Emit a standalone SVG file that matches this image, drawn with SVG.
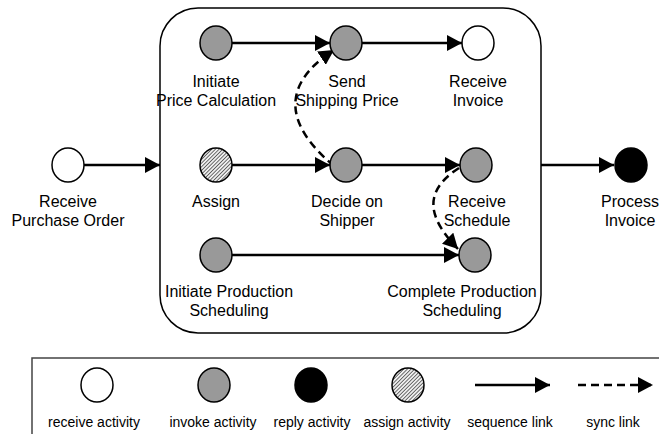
<svg xmlns="http://www.w3.org/2000/svg" width="659" height="434" viewBox="0 0 659 434">
<style>
.lbl{font-family:"Liberation Sans",Arial,sans-serif;font-size:16px;fill:#000;text-anchor:middle}
.leg{font-family:"Liberation Sans",Arial,sans-serif;font-size:14px;fill:#000;text-anchor:middle}
.act{stroke:#000;stroke-width:1.5}
.receive{fill:#fff}
.invoke{fill:#999}
.reply{fill:#000}
.assign{fill:url(#hatch)}
.seq{stroke:#000;stroke-width:2.5;fill:none;marker-end:url(#arrow)}
.sync{stroke:#000;stroke-width:2.5;fill:none;stroke-dasharray:8 5;marker-end:url(#arrow)}
</style>
<defs>
<pattern id="hatch" patternUnits="userSpaceOnUse" width="2.6" height="2.6" patternTransform="rotate(45)">
<rect width="2.6" height="2.6" fill="#eee"/>
<line x1="0" y1="0" x2="0" y2="2.6" stroke="#444" stroke-width="1.5"/>
</pattern>
<marker id="arrow" markerUnits="userSpaceOnUse" markerWidth="16" markerHeight="16" refX="15" refY="8" orient="auto">
<path d="M0,0 L15,8 L0,16 z" fill="#000"/>
</marker>
</defs>
<rect id="scope" x="160" y="8" width="381" height="325" rx="38" ry="38" fill="none" stroke="#000" stroke-width="1.5"/>
<g id="connectors">
<line class="seq" x1="84" y1="165" x2="160" y2="165"/>
<line class="seq" x1="232" y1="43" x2="330" y2="43"/>
<line class="seq" x1="362" y1="43" x2="462" y2="43"/>
<line class="seq" x1="232" y1="165" x2="330" y2="165"/>
<line class="seq" x1="362" y1="165" x2="460" y2="165"/>
<line class="seq" x1="232" y1="255" x2="459" y2="255"/>
<line class="seq" x1="541" y1="165" x2="614" y2="165"/>
<path class="sync" d="M334,166 C285,125 280,85 334,50"/>
<path class="sync" d="M459,168 C425,190 425,215 458,249"/>
</g>
<g id="receive-purchase-order">
<ellipse class="act receive" cx="68" cy="165" rx="16" ry="17"/>
<text class="lbl" x="68" y="207">Receive</text>
<text class="lbl" x="68" y="226">Purchase Order</text>
</g>
<g id="initiate-price-calculation">
<ellipse class="act invoke" cx="216" cy="43" rx="16" ry="17"/>
<text class="lbl" x="216" y="87">Initiate</text>
<text class="lbl" x="216" y="106">Price Calculation</text>
</g>
<g id="send-shipping-price">
<ellipse class="act invoke" cx="346" cy="43" rx="16" ry="17"/>
<text class="lbl" x="347" y="87">Send</text>
<text class="lbl" x="347" y="106">Shipping Price</text>
</g>
<g id="receive-invoice">
<ellipse class="act receive" cx="478" cy="43" rx="16" ry="17"/>
<text class="lbl" x="478" y="87">Receive</text>
<text class="lbl" x="478" y="106">Invoice</text>
</g>
<g id="assign">
<ellipse class="act assign" cx="216" cy="165" rx="16" ry="17"/>
<text class="lbl" x="216" y="207">Assign</text>
</g>
<g id="decide-on-shipper">
<ellipse class="act invoke" cx="346" cy="165" rx="16" ry="17"/>
<text class="lbl" x="347" y="207">Decide on</text>
<text class="lbl" x="347" y="226">Shipper</text>
</g>
<g id="receive-schedule">
<ellipse class="act invoke" cx="476" cy="165" rx="16" ry="17"/>
<text class="lbl" x="477" y="207">Receive</text>
<text class="lbl" x="477" y="226">Schedule</text>
</g>
<g id="process-invoice">
<ellipse class="act reply" cx="631" cy="165" rx="16" ry="17"/>
<text class="lbl" x="630" y="207">Process</text>
<text class="lbl" x="630" y="226">Invoice</text>
</g>
<g id="initiate-production-scheduling">
<ellipse class="act invoke" cx="216" cy="255" rx="16" ry="17"/>
<text class="lbl" x="229" y="297">Initiate Production</text>
<text class="lbl" x="229" y="316">Scheduling</text>
</g>
<g id="complete-production-scheduling">
<ellipse class="act invoke" cx="475" cy="255" rx="16" ry="17"/>
<text class="lbl" x="462" y="297">Complete Production</text>
<text class="lbl" x="462" y="316">Scheduling</text>
</g>
<g id="legend">
<rect x="32" y="358" width="700" height="100" fill="none" stroke="#444" stroke-width="1.5"/>
<ellipse class="act receive" cx="97" cy="385" rx="16" ry="17"/>
<ellipse class="act invoke" cx="214" cy="385" rx="16" ry="17"/>
<ellipse class="act reply" cx="311" cy="385" rx="16" ry="17"/>
<ellipse class="act assign" cx="408" cy="385" rx="16" ry="17"/>
<line class="seq" x1="475" y1="385" x2="550" y2="385"/>
<line class="sync" x1="578" y1="385" x2="653" y2="385"/>
<text class="leg" x="94" y="427">receive activity</text>
<text class="leg" x="213" y="427">invoke activity</text>
<text class="leg" x="312" y="427">reply activity</text>
<text class="leg" x="407" y="427">assign activity</text>
<text class="leg" x="510" y="427">sequence link</text>
<text class="leg" x="613" y="427">sync link</text>
</g>
</svg>
